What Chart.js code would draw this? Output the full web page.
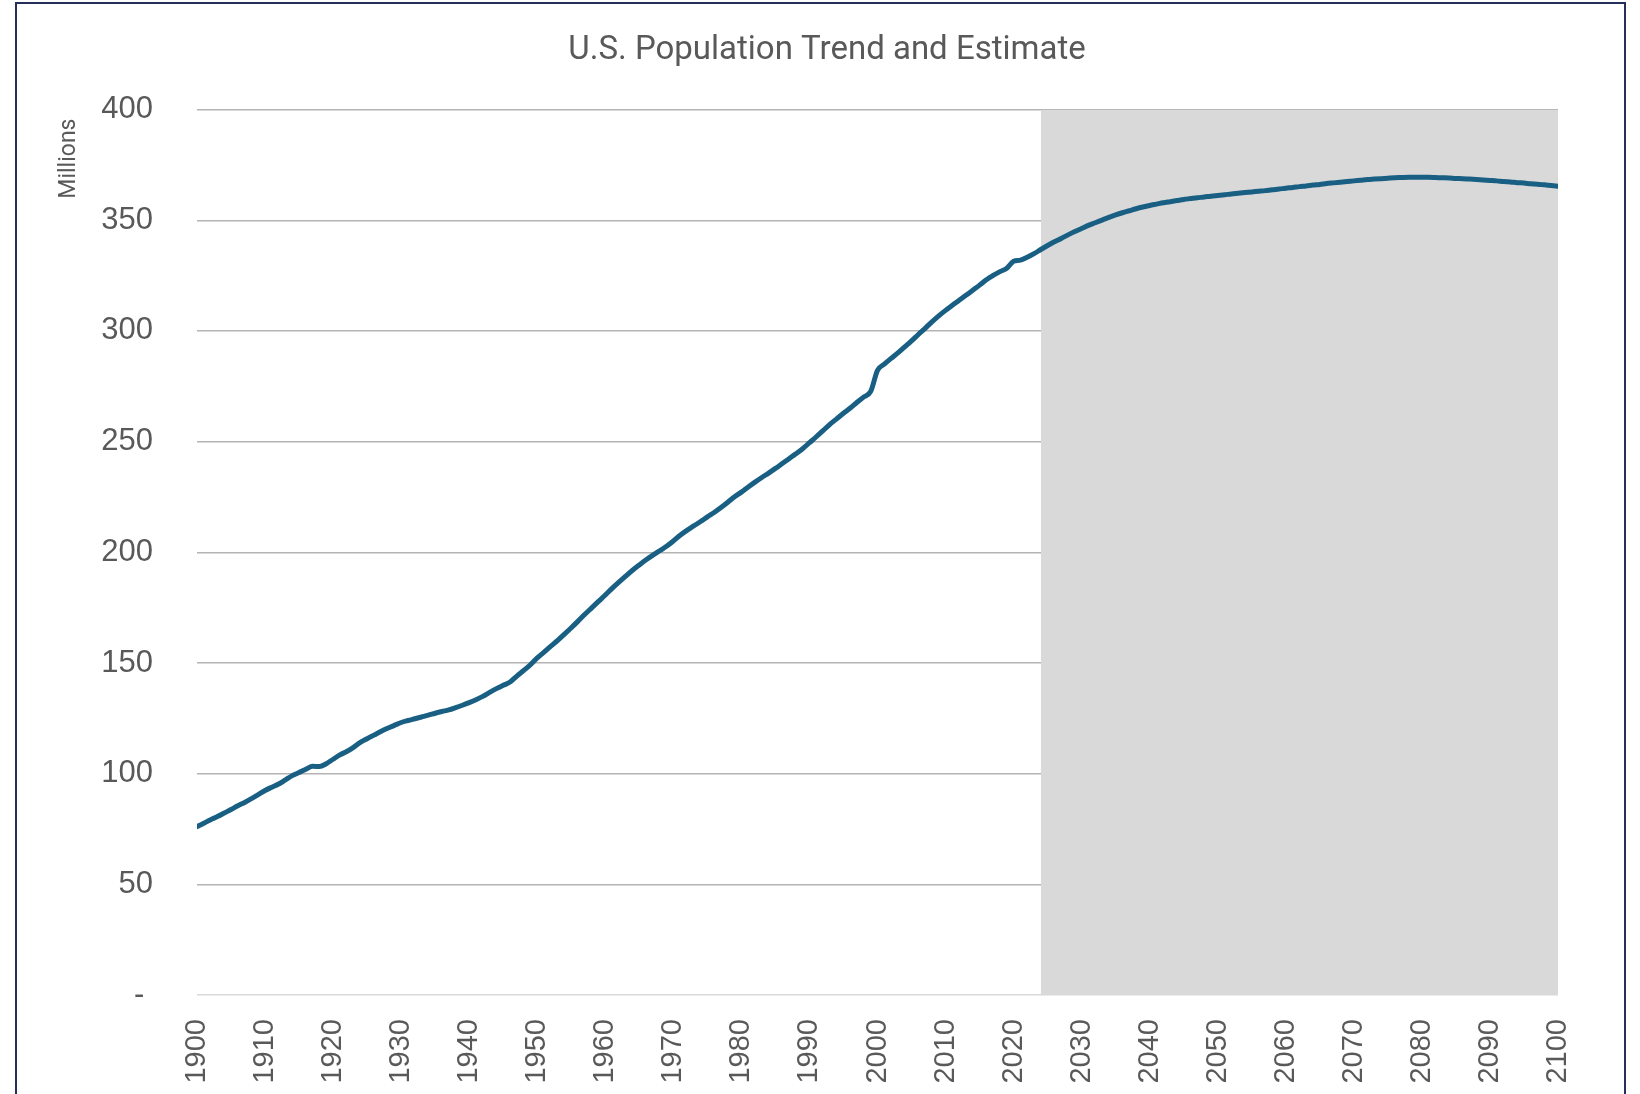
<!DOCTYPE html>
<html>
<head>
<meta charset="utf-8">
<title>U.S. Population Trend and Estimate</title>
<script src="https://cdn.jsdelivr.net/npm/chart.js@4.4.1/dist/chart.umd.min.js"></script>
<style>
  html, body { margin: 0; padding: 0; background: #fff; overflow: hidden; }
  #frame {
    position: absolute; left: 15px; top: 2px; width: 1611px; height: 1200px;
    border: 2px solid #25305a; box-sizing: border-box;
  }
  #wrap { position: absolute; left: 0; top: 0; width: 1640px; height: 1094px; }
</style>
</head>
<body>
<div id="frame"></div>
<div id="wrap"><canvas id="popChart" width="1640" height="1094"></canvas></div>
<script>
// first year of the series, one value per year after it
var firstYear = 1900;

// estimates 1900-2023 (millions)
var popHistory = [
  76.1, 77.6, 79.2, 80.6, 82.2, 83.8, 85.5, 87.0, 88.7, 90.5,
  92.4, 93.9, 95.3, 97.2, 99.1, 100.5, 102.0, 103.3, 103.2, 104.5,
  106.5, 108.5, 110.0, 111.9, 114.1, 115.8, 117.4, 119.0, 120.5, 121.8,
  123.1, 124.0, 124.8, 125.6, 126.4, 127.3, 128.1, 128.8, 129.8, 130.9,
  132.1, 133.4, 134.9, 136.7, 138.4, 139.9, 141.4, 144.1, 146.6, 149.2,
  152.3, 154.9, 157.6, 160.2, 163.0, 165.9, 168.9, 172.0, 174.9, 177.8,
  180.7, 183.7, 186.5, 189.2, 191.9, 194.3, 196.6, 198.7, 200.7, 202.7,
  205.1, 207.7, 209.9, 211.9, 213.9, 216.0, 218.0, 220.2, 222.6, 225.1,
  227.2, 229.5, 231.7, 233.8, 235.8, 237.9, 240.1, 242.3, 244.5, 246.8,
  249.5, 252.2, 255.0, 257.8, 260.3, 262.8, 265.2, 267.8, 270.2, 272.7,
  282.2, 285.0, 287.6, 290.1, 292.8, 295.5, 298.4, 301.2, 304.1, 306.8,
  309.3, 311.6, 313.9, 316.1, 318.4, 320.7, 323.1, 325.1, 326.8, 328.3,
  331.5, 332.0, 333.3, 334.9
];

// projections 2024-2100 (millions)
var popProjection = [
  336.8, 338.6, 340.3, 341.8, 343.4, 344.9,
  346.3, 347.7, 348.9, 350.1, 351.3, 352.4, 353.4, 354.3, 355.2, 356.0,
  356.7, 357.3, 357.9, 358.4, 358.9, 359.4, 359.8, 360.2, 360.5, 360.9,
  361.2, 361.5, 361.9, 362.2, 362.5, 362.8, 363.1, 363.4, 363.8, 364.1,
  364.5, 364.8, 365.2, 365.5, 365.9, 366.2, 366.6, 366.9, 367.2, 367.5,
  367.8, 368.1, 368.4, 368.6, 368.8, 369.0, 369.2, 369.3, 369.4, 369.4,
  369.4, 369.4, 369.3, 369.2, 369.1, 368.9, 368.8, 368.6, 368.4, 368.2,
  368.0, 367.8, 367.5, 367.3, 367.0, 366.8, 366.5, 366.3, 366.0, 365.7,
  365.4
];

// shaded estimate period
var shadeYears = [2024, 2100];
var shadeTop = 400;

var yTicks = [0, 50, 100, 150, 200, 250, 300, 350, 400];

var population = popHistory.concat(popProjection);
var linePoints = population.map(function (v, i) {
  return { x: firstYear + i, y: v };
});
var shadePoints = shadeYears.map(function (yr) {
  return { x: yr, y: shadeTop };
});

// "Millions" note above the value axis
var unitNote = {
  id: "unitNote",
  afterDraw: function (chart) {
    var ctx = chart.ctx;
    ctx.save();
    ctx.translate(69, chart.chartArea.top + 49);
    ctx.rotate(-Math.PI / 2);
    ctx.font = "23px Roboto";
    ctx.fillStyle = "#595959";
    ctx.textAlign = "center";
    ctx.textBaseline = "middle";
    ctx.fillText("Millions", 0, 0);
    ctx.restore();
  },
};

var ctx = document.getElementById("popChart").getContext("2d");
var popChart = new Chart(ctx, {
  type: "line",
  data: {
    datasets: [
      {
        label: "Population",
        data: linePoints,
        borderColor: "#195f83",
        borderWidth: 5,
        borderCapStyle: "round",
        borderJoinStyle: "round",
        pointRadius: 0,
        cubicInterpolationMode: "monotone",
        fill: false,
      },
      {
        label: "Estimate",
        data: shadePoints,
        borderWidth: 0,
        pointRadius: 0,
        backgroundColor: "#d9d9d9",
        fill: "origin",
      },
    ],
  },
  options: {
    responsive: false,
    devicePixelRatio: 1,
    animation: false,
    layout: {
      padding: { left: 96, right: 82, top: 0, bottom: 0 },
    },
    scales: {
      x: {
        type: "linear",
        min: 1900,
        max: 2100,
        afterFit: function (scale) {
          scale.height = 99;
        },
        grid: { display: false, drawTicks: false },
        border: { display: false },
        ticks: {
          stepSize: 10,
          autoSkip: false,
          maxRotation: 90,
          minRotation: 90,
          padding: 24,
          color: "#595959",
          font: { family: '"Liberation Sans Narrow", "Liberation Sans"', size: 29 },
          callback: function (v) {
            return String(v);
          },
        },
      },
      y: {
        min: 0,
        max: 400,
        afterFit: function (scale) {
          scale.width = 101;
        },
        afterBuildTicks: function (scale) {
          scale.ticks = yTicks.map(function (v) {
            return { value: v };
          });
        },
        grid: {
          drawTicks: false,
          lineWidth: 1.5,
          color: function (c) {
            return c.tick && c.tick.value === 0 ? "#d9d9d9" : "#b4b4b4";
          },
        },
        border: { display: false },
        ticks: {
          padding: 44,
          color: "#595959",
          font: { family: '"Liberation Sans"', size: 31 },
          callback: function (v) {
            return v === 0 ? "- " : String(v);
          },
        },
      },
    },
    plugins: {
      legend: { display: false },
      tooltip: { enabled: false },
      title: {
        display: true,
        text: "U.S. Population Trend and Estimate",
        color: "#595959",
        font: { family: "Roboto", size: 33, weight: "normal", lineHeight: 1.2 },
        padding: { top: 31, bottom: 39 },
      },
    },
  },
  plugins: [unitNote],
});
</script>
</body>
</html>
